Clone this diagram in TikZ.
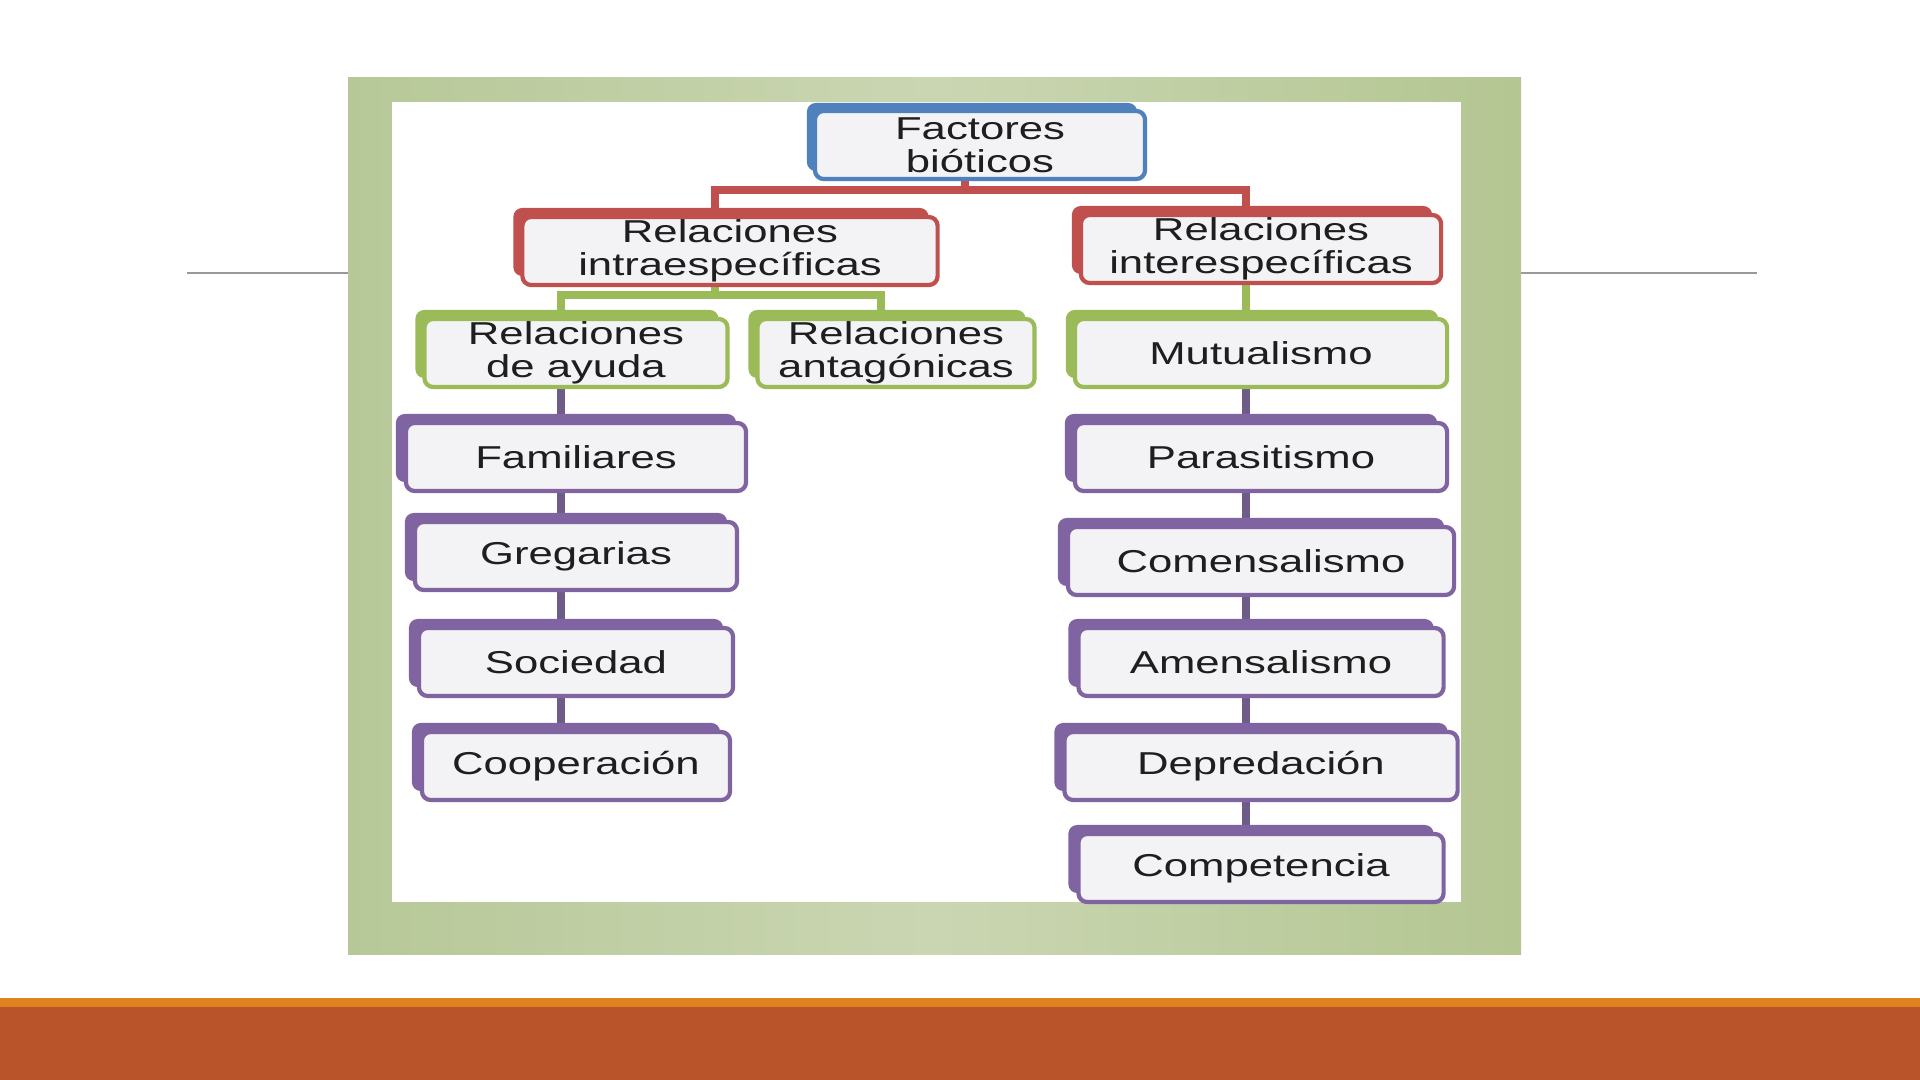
\documentclass[tikz,border=0pt]{standalone}
\usepackage{fontspec}
\usetikzlibrary{backgrounds,shadows}
\newfontfamily\boxfont[FakeStretch=1.38]{Liberation Sans}
\definecolor{boxblue}{HTML}{4F81BD}
\definecolor{boxred}{HTML}{C0504D}
\definecolor{boxgreen}{HTML}{9BBB59}
\definecolor{boxpurple}{HTML}{8064A2}
\definecolor{barpurple}{HTML}{6E5C88}
\definecolor{boxfill}{HTML}{F3F2F5}
\definecolor{boxtext}{HTML}{1E1E1E}
\definecolor{framegreen}{HTML}{CAD6B2}
\definecolor{frameleft}{HTML}{B7C898}
\definecolor{frameright}{HTML}{B4C692}
\definecolor{slideorange}{HTML}{E0821F}
\definecolor{slidebrown}{HTML}{B9542A}
\tikzset{
	box/.style={line width=1.2pt, fill=boxfill, rounded corners=2.5pt, minimum height=0.68cm,
		inner xsep=2pt, inner ysep=0.5pt, align=center, text=boxtext,
		font={\boxfont\fontsize{9pt}{9.4pt}\selectfont}},
	bluebox/.style={box, draw=boxblue, general shadow={fill=boxblue, shadow xshift=-0.08cm, shadow yshift=0.08cm}},
	redbox/.style={box, draw=boxred, general shadow={fill=boxred, shadow xshift=-0.09cm, shadow yshift=0.09cm}},
	greenbox/.style={box, draw=boxgreen, general shadow={fill=boxgreen, shadow xshift=-0.09cm, shadow yshift=0.09cm}},
	purplebox/.style={box, draw=boxpurple, general shadow={fill=boxpurple, shadow xshift=-0.1cm, shadow yshift=0.09cm}},
	conn/.style={line width=2.1pt},
}
\begin{document}
\begin{tikzpicture}[x=0.01cm, y=-0.01cm]
		%%%%% START %%%%%
		\useasboundingbox (0,0) rectangle (1920,1080);
		
		\node[bluebox, minimum width=3.3cm] (fb) at (980,145) {Factores\\bióticos};
		
		\node[redbox, minimum width=4.15cm] (intra) at (730,251) {Relaciones\\intraespecíficas};
		\node[redbox, minimum width=3.6cm] (inter) at (1261,249) {Relaciones\\interespecíficas};
		
		\node[greenbox, minimum width=3.03cm] (ayuda) at (576,353) {Relaciones\\de ayuda};
		\node[greenbox, minimum width=2.77cm] (antag) at (896,353) {Relaciones\\antagónicas};
		\node[greenbox, minimum width=3.72cm] (mutual) at (1261,353) {Mutualismo};
		
		\node[purplebox, minimum width=3.4cm] (famil) at (576,457) {Familiares};
		\node[purplebox, minimum width=3.22cm] (greg) at (576,556) {Gregarias};
		\node[purplebox, minimum width=3.14cm] (soc) at (576,662) {Sociedad};
		\node[purplebox, minimum width=3.08cm] (coop) at (576,766) {Cooperación};
		
		\node[purplebox, minimum width=3.72cm] (parasit) at (1261,457) {Parasitismo};
		\node[purplebox, minimum width=3.86cm] (comens) at (1261,561) {Comensalismo};
		\node[purplebox, minimum width=3.65cm] (amens) at (1261,662) {Amensalismo};
		\node[purplebox, minimum width=3.93cm] (depred) at (1261,766) {Depredación};
		\node[purplebox, minimum width=3.65cm] (compet) at (1261,868) {Competencia};
		
		\begin{scope}[on background layer]
			% slide
			\draw[gray!80, line width=0.6pt] (187,273) -- (351,273);
			\draw[gray!80, line width=0.6pt] (1521,273) -- (1757,273);
			\fill[left color=frameleft, right color=frameright, middle color=framegreen] (348,78) rectangle (1521,955);
			\fill[white] (392,102) rectangle (1461,902);
			\fill[slideorange] (0,998) rectangle (1920,1008);
			\fill[slidebrown] (0,1007) rectangle (1920,1080);
			
			% connectors
			\draw[conn, boxred] ([xshift=-0.15cm]fb.south) -- ++(0,11);
			\draw[conn, boxred] ([xshift=-0.15cm]intra.north) -- ++(0,-25) -| ([xshift=-0.15cm]inter.north);
			\draw[conn, boxgreen] ([xshift=-0.15cm]intra.south) -- ++(0,10);
			\draw[conn, boxgreen] ([xshift=-0.15cm]ayuda.north) -- ++(0,-22) -| ([xshift=-0.15cm]antag.north);
			\draw[conn, boxgreen] ([xshift=-0.15cm]inter.south) -- ([xshift=-0.15cm]mutual.north);
			\foreach \a/\b in {ayuda/famil, famil/greg, greg/soc, soc/coop, mutual/parasit, parasit/comens, comens/amens, amens/depred, depred/compet}
				\draw[conn, barpurple] ([xshift=-0.15cm]\a.south) -- ([xshift=-0.15cm]\b.north);
		\end{scope}
		%%%%% END %%%%%
\end{tikzpicture}
\end{document}
